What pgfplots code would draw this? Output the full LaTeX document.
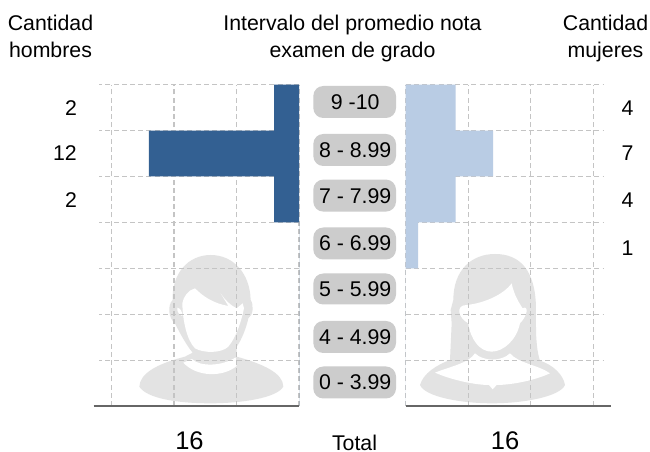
\documentclass[border=0pt]{standalone}
\usepackage{fontspec}
\setmainfont{Liberation Sans}
\usepackage{pgfplots}
\pgfplotsset{compat=1.18}
\definecolor{darkbar}{HTML}{336092}
\definecolor{lightbar}{HTML}{B9CCE4}
\definecolor{pill}{HTML}{CCCCCC}
\definecolor{sil}{HTML}{E3E3E3}
\definecolor{gridc}{HTML}{C4C4C4}
\definecolor{basec}{HTML}{666666}
\pgfplotstableread{
y men women
6.5 2 4
5.5 12 7
4.5 2 4
3.5 0 1
2.5 0 0
1.5 0 0
0.5 0 0
}\datatable
\pgfplotsset{panel/.style={
  scale only axis, width=200pt, height=321.3pt,
  xmin=0, xmax=16, ymin=0, ymax=7,
  xtick={0,5,10,15}, ytick={1,2,3,4,5,6,7},
  xticklabels={}, yticklabels={},
  major tick length=0pt,
  axis line style={draw=none},
  grid=major,
  grid style={draw=gridc, line width=1.1pt, dash pattern=on 5pt off 3.2pt},
  xbar, bar shift=0pt, bar width=1,
}}
\newcommand{\T}[1]{\fontsize{21.3}{25}\selectfont #1}
\begin{document}
\begin{tikzpicture}[x=1pt,y=1pt]
\path[fill=white] (0,0) rectangle (650,452);
% silhouettes and pills beneath
\begin{scope}[shift={(90pt,452pt)},yshift=-240pt,x=0.3333pt,y=-0.3333pt]
 \fill[sil] (362,45) .. controls (430,45) and (480,100) .. (482,180)
   .. controls (492,195) and (490,225) .. (475,235)
   .. controls (470,260) and (455,300) .. (440,320)
   -- (440,350) .. controls (520,372) and (580,400) .. (580,440)
   .. controls (560,475) and (450,490) .. (362,490)
   .. controls (260,490) and (170,475) .. (148,440)
   .. controls (150,400) and (200,372) .. (285,350)
   -- (308,338) .. controls (285,310) and (265,270) .. (255,250)
   .. controls (235,235) and (232,195) .. (248,180)
   .. controls (245,100) and (295,45) .. (362,45) -- cycle;
 \fill[white] (277,190) .. controls (280,170) and (295,150) .. (315,145)
   .. controls (340,170) and (370,190) .. (415,198)
   -- (392,160) .. controls (405,180) and (420,195) .. (440,205)
   -- (458,190) -- (462,205)
   .. controls (455,240) and (440,290) .. (415,320)
   .. controls (395,340) and (340,340) .. (315,325)
   .. controls (290,300) and (278,240) .. (277,190) -- cycle;
 \fill[white] (262,203) .. controls (272,205) and (277,215) .. (277,228) .. controls (268,225) and (260,215) .. (262,203) -- cycle;
 \fill[white] (280,368) -- (306,357) .. controls (330,382) and (400,378) .. (437,352)
   -- (440,378) .. controls (400,412) and (320,412) .. (280,368) -- cycle;
\end{scope}
\begin{scope}[shift={(400pt,452pt)},yshift=-240pt,x=0.3333pt,y=-0.3333pt]
 \fill[sil] (285,42) .. controls (360,42) and (405,90) .. (408,200)
   -- (408,260) .. controls (408,300) and (412,340) .. (420,362)
   .. controls (460,375) and (490,405) .. (495,435)
   .. controls (480,470) and (370,490) .. (277,490)
   .. controls (180,490) and (75,470) .. (60,435)
   .. controls (70,400) and (110,375) .. (150,360)
   -- (155,250) -- (152,210) -- (160,180)
   .. controls (160,90) and (215,42) .. (285,42) -- cycle;
 \fill[white] (200,195) .. controls (250,190) and (310,165) .. (335,130)
   .. controls (342,165) and (358,190) .. (368,205)
   .. controls (385,195) and (385,225) .. (360,250)
   .. controls (350,300) and (310,335) .. (275,335)
   .. controls (240,335) and (212,300) .. (205,250)
   .. controls (175,235) and (165,195) .. (200,195) -- cycle;
 \fill[white] (105,398) .. controls (155,378) and (205,370) .. (225,340)
   .. controls (250,365) and (305,365) .. (330,340)
   .. controls (355,370) and (415,375) .. (450,400)
   .. controls (395,425) and (325,435) .. (290,435)
   -- (278,448) -- (267,435)
   .. controls (225,435) and (155,420) .. (105,398) -- cycle;
\end{scope}
% left panel
\begin{axis}[panel, at={(99pt,46pt)}, anchor=south west, x dir=reverse]
 \addplot[fill=darkbar, draw=none] table[x=men, y=y] {\datatable};
\end{axis}
% right panel
\begin{axis}[panel, at={(405.7pt,46pt)}, anchor=south west, width=197.5pt, xmax=15.8]
 \addplot[fill=lightbar, draw=none] table[x=women, y=y] {\datatable};
\end{axis}
\begin{scope}[shift={(0pt,452pt)},x=1pt,y=-1pt]
 \draw[basec, line width=2.4pt] (93.5,406.3) -- (298.7,406.3);
 \draw[basec, line width=2.4pt] (405.7,406.3) -- (610.7,406.3);
 \tikzset{lab/.style={anchor=base, inner sep=0pt}}
 \foreach \x/\yc/\h/\t in {313.3/102/32/{9 -10},313.3/150/32/{8 - 8.99},313.3/195.6/32/{7 - 7.99},313.3/243.5/32/{6 - 6.99},313.3/289/31/{5 - 5.99},313.3/337/32/{4 - 4.99},313.3/382.5/32/{0 - 3.99}}{
  \fill[pill, rounded corners=10pt] (\x,\yc-\h/2) rectangle (396,\yc+\h/2);
  \node[lab] at (355.2,\yc+7.5) {\T{\t}};
 }
 \node[lab] at (50.5,30.5) {\T{Cantidad}};
 \node[lab] at (50.5,57.5) {\T{hombres}};
 \node[lab] at (352.5,30.5) {\T{Intervalo del promedio nota}};
 \node[lab] at (352.5,57.5) {\T{examen de grado}};
 \node[lab] at (605.5,30.5) {\T{Cantidad}};
 \node[lab] at (605.5,57.5) {\T{mujeres}};
 \node[lab] at (71,115.5) {\T{2}};
 \node[lab] at (65,160.5) {\T{12}};
 \node[lab] at (71,207.5) {\T{2}};
 \node[lab] at (627.5,115.5) {\T{4}};
 \node[lab] at (627.5,160.5) {\T{7}};
 \node[lab] at (627.5,207.5) {\T{4}};
 \node[lab] at (627.5,255.5) {\T{1}};
 \node[lab] at (189.5,450) {\fontsize{25.5}{30}\selectfont 16};
 \node[lab] at (354.5,450.5) {\T{Total}};
 \node[lab] at (505,450) {\fontsize{25.5}{30}\selectfont 16};
\end{scope}
\end{tikzpicture}
\end{document}
